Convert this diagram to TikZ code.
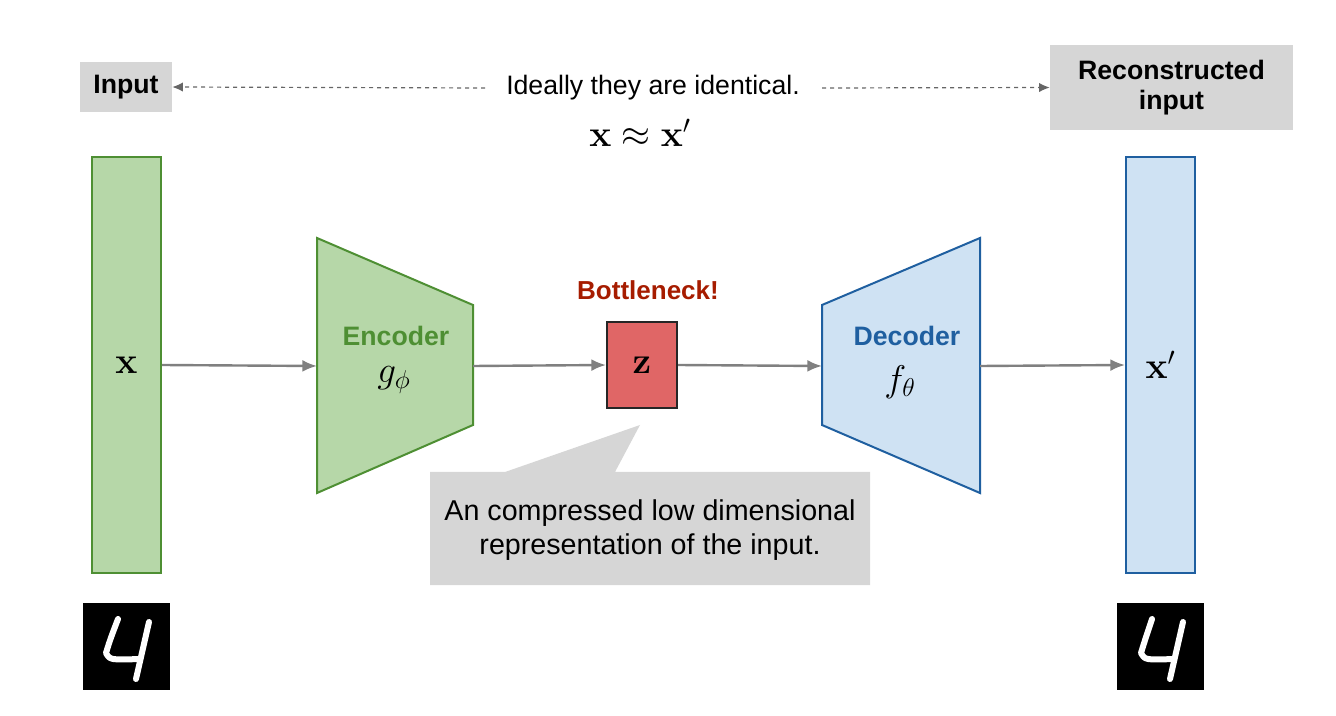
\documentclass[tikz,border=0pt]{standalone}
\usepackage{amsmath}
\usepackage[no-math]{fontspec}
\setmainfont{Liberation Sans}
\usetikzlibrary{arrows.meta}
\begin{document}
\begin{tikzpicture}[x={(0.75pt,0)},y={(0,-0.75pt)},
  lab/.style={fill=black!16,font=\bfseries\fontsize{20}{23}\selectfont,align=center,inner sep=0},
  conn/.style={draw=black!50,line width=1.8pt,-{Latex[length=11pt,width=9pt]}},
  dasharrow/.style={draw=black!60,dashed,line width=0.9pt,-{Latex[length=8pt,width=7pt]}},
  digit/.style={draw=white,line width=4.5pt,line cap=round,line join=round},
  bigmath/.style={font=\fontsize{24}{26}\selectfont,transform shape,scale=1.12}]
\useasboundingbox (0,0) rectangle (1336,716);
\definecolor{gfill}{HTML}{B6D7A8}\definecolor{gline}{HTML}{4E8F33}
\definecolor{bfill}{HTML}{CFE2F3}\definecolor{bline}{HTML}{1F5FA0}
\definecolor{zfill}{HTML}{E06666}\definecolor{dred}{HTML}{A61C00}
% labels
\node[lab,minimum width=92*0.75pt,minimum height=50*0.75pt] (in) at (126,87) {Input};
\node[lab,minimum width=243*0.75pt,minimum height=85*0.75pt] (rec) at (1171.5,87.5) {Reconstructed\\input};
\node[font=\fontsize{20}{23}\selectfont] (ideal) at (653,88) {Ideally they are identical.};
\coordinate (d1) at (485,88); \coordinate (d2) at (822,88);
\draw[dasharrow] (d1) -- (in.east);
\draw[dasharrow] (d2) -- (rec.west);
% bars
\node[draw=gline,fill=gfill,line width=1.5pt,minimum width=69*0.75pt,minimum height=416*0.75pt,inner sep=0] (xin) at (126.5,365) {};
\node[draw=bline,fill=bfill,line width=1.5pt,minimum width=69*0.75pt,minimum height=416*0.75pt,inner sep=0] (xout) at (1160.5,365) {};
% encoder
\draw[draw=gline,fill=gfill,line width=1.5pt] (317,238) -- (473,305) -- (473,425) -- (317,493) -- cycle;
\coordinate (encL) at (317,366); \coordinate (encR) at (473,366);
\node[text=gline,font=\bfseries\fontsize{20}{23}\selectfont] (enc) at (396,336) {Encoder};
% decoder
\draw[draw=bline,fill=bfill,line width=1.5pt] (822,305) -- (980,238) -- (980,493) -- (822,425) -- cycle;
\coordinate (decL) at (822,366); \coordinate (decR) at (980,366);
\node[text=bline,font=\bfseries\fontsize{20}{23}\selectfont] (dec) at (907,336) {Decoder};
% z
\node[draw=black!85,fill=zfill,line width=1.5pt,minimum width=70*0.75pt,minimum height=86*0.75pt,inner sep=0] (z) at (642,365) {};
\node[text=dred,font=\bfseries\fontsize{19.5}{22}\selectfont] (bn) at (648,290) {Bottleneck!};
% math labels
\begin{scope}[y={(0,-0.75pt)}]
\node[bigmath] (approx) at (640,133) {$\mathbf{x}\approx\mathbf{x}'$};
\node[bigmath] (xl) at (126.5,365) {$\mathbf{x}$};
\node[bigmath] (xr) at (1160.5,365) {$\mathbf{x}'$};
\node[bigmath] (g) at (394,380) {$g_\phi$};
\node[bigmath] (f) at (900,382) {$f_\theta$};
\node[bigmath] (zl) at (642,365) {$\mathbf{z}$};
\end{scope}
% arrows
\draw[conn] (xin.east) -- (encL);
\draw[conn] (encR) -- (z.west);
\draw[conn] (z.east) -- (decL);
\draw[conn] (decR) -- (xout.west);
% callout
\fill[black!16] (430,472) -- (505,472) -- (640,425) -- (615,472) -- (870,472) -- (870,585) -- (430,585) -- cycle;
\node[font=\fontsize{21.5}{26}\selectfont,align=center] (call) at (650,530) {An compressed low dimensional\\representation of the input.};
% digits
\node[fill=black,minimum size=87*0.75pt,inner sep=0] (img1) at (126.5,646.5) {};
\draw[digit] (118,619) .. controls (110,640) .. (106,653) .. controls (110,660) .. (140,659);
\draw[digit] (149,622) .. controls (142,650) .. (136,679);
\node[fill=black,minimum size=87*0.75pt,inner sep=0] (img2) at (1160.5,646.5) {};
\draw[digit] (1152,619) .. controls (1145,640) .. (1141,653) .. controls (1145,660) .. (1174,659);
\draw[digit] (1183,622) .. controls (1176,650) .. (1170,679);
\end{tikzpicture}
\end{document}
